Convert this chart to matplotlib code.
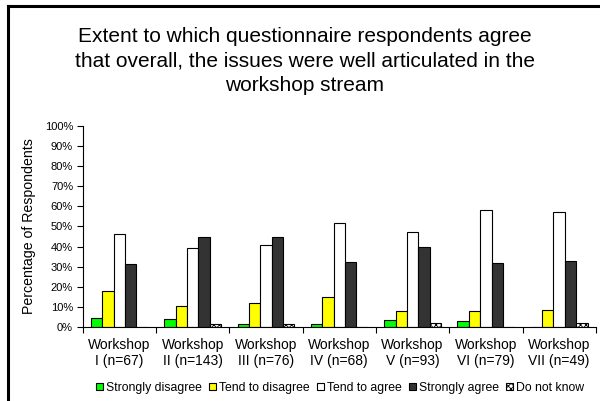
import numpy as np
import matplotlib
matplotlib.use('Agg')
import matplotlib.pyplot as plt
from matplotlib.lines import Line2D

plt.rcParams['font.family'] = ['Liberation Sans', 'DejaVu Sans']
plt.rcParams['hatch.linewidth'] = 0.6

# data (percent)
workshops = ['Workshop\nI (n=67)', 'Workshop\nII (n=143)', 'Workshop\nIII (n=76)',
             'Workshop\nIV (n=68)', 'Workshop\nV (n=93)', 'Workshop\nVI (n=79)',
             'Workshop\nVII (n=49)']
series_names = ['Strongly disagree', 'Tend to disagree', 'Tend to agree',
                'Strongly agree', 'Do not know']
strongly_disagree = [4.5, 4.0, 1.5, 1.5, 3.3, 2.8, 0.0]
tend_disagree = [18.0, 10.5, 12.0, 14.8, 7.8, 7.8, 8.3]
tend_agree = [46.3, 39.3, 41.0, 51.6, 47.3, 58.3, 57.1]
strongly_agree = [31.3, 44.8, 44.6, 32.3, 39.8, 31.6, 32.7]
do_not_know = [0.0, 1.5, 1.5, 0.0, 2.2, 0.0, 2.1]

colors = ['#00ff00', '#ffff00', '#ffffff', '#333333', '#ffffff']
hatches = [None, None, None, None, 'xxxxxx']

fig = plt.figure(figsize=(6, 4.01), dpi=100)
ax = fig.add_axes([0.138, 0.1845, 0.855, 0.5015])

x = np.arange(len(workshops))
width = 0.155
all_series = [strongly_disagree, tend_disagree, tend_agree, strongly_agree, do_not_know]
for i, vals in enumerate(all_series):
    ax.bar(x + (i - 2) * width, vals, width, color=colors[i], edgecolor='black',
           linewidth=0.8, hatch=hatches[i], label=series_names[i])

ax.set_xlim(-0.5, len(workshops) - 0.5)
ax.set_ylim(0, 100)
ax.set_yticks(np.arange(0, 101, 10))
ax.set_yticklabels([f'{v}%' for v in range(0, 101, 10)], fontsize=8)

# ticks between groups, labels centred under the groups
ax.set_xticks(np.arange(-0.5, len(workshops)), minor=False)
ax.set_xticklabels([])
ax.set_xticks(x, minor=True)
ax.set_xticklabels(workshops, minor=True, fontsize=10, linespacing=1.2)
ax.tick_params(axis='x', which='minor', length=0, pad=8)
ax.tick_params(axis='x', which='major', length=4, direction='out')
ax.tick_params(axis='y', length=4, direction='out', pad=3)

ax.spines['top'].set_visible(False)
ax.spines['right'].set_visible(False)
ax.set_ylabel('Percentage of Respondents', fontsize=10.2, labelpad=6)

fig.suptitle('Extent to which questionnaire respondents agree\n'
             'that overall, the issues were well articulated in the\n'
             'workshop stream', x=0.508, y=0.932, fontsize=15, linespacing=1.37)

fig.legend(loc='center', bbox_to_anchor=(0.567, 0.033), ncol=5, frameon=False,
           fontsize=8.8, handlelength=0.6, handleheight=0.6, handletextpad=0.25,
           columnspacing=0.55)

# chart border (only top and left edges visible in the crop)
fig.add_artist(Line2D([8 / 600, 1.0], [1 - 6 / 401, 1 - 6 / 401], color='black',
                      linewidth=2.2, transform=fig.transFigure))
fig.add_artist(Line2D([8 / 600, 8 / 600], [0.0, 1 - 6 / 401], color='black',
                      linewidth=2.2, transform=fig.transFigure))

fig.savefig('out.png', dpi=100)
